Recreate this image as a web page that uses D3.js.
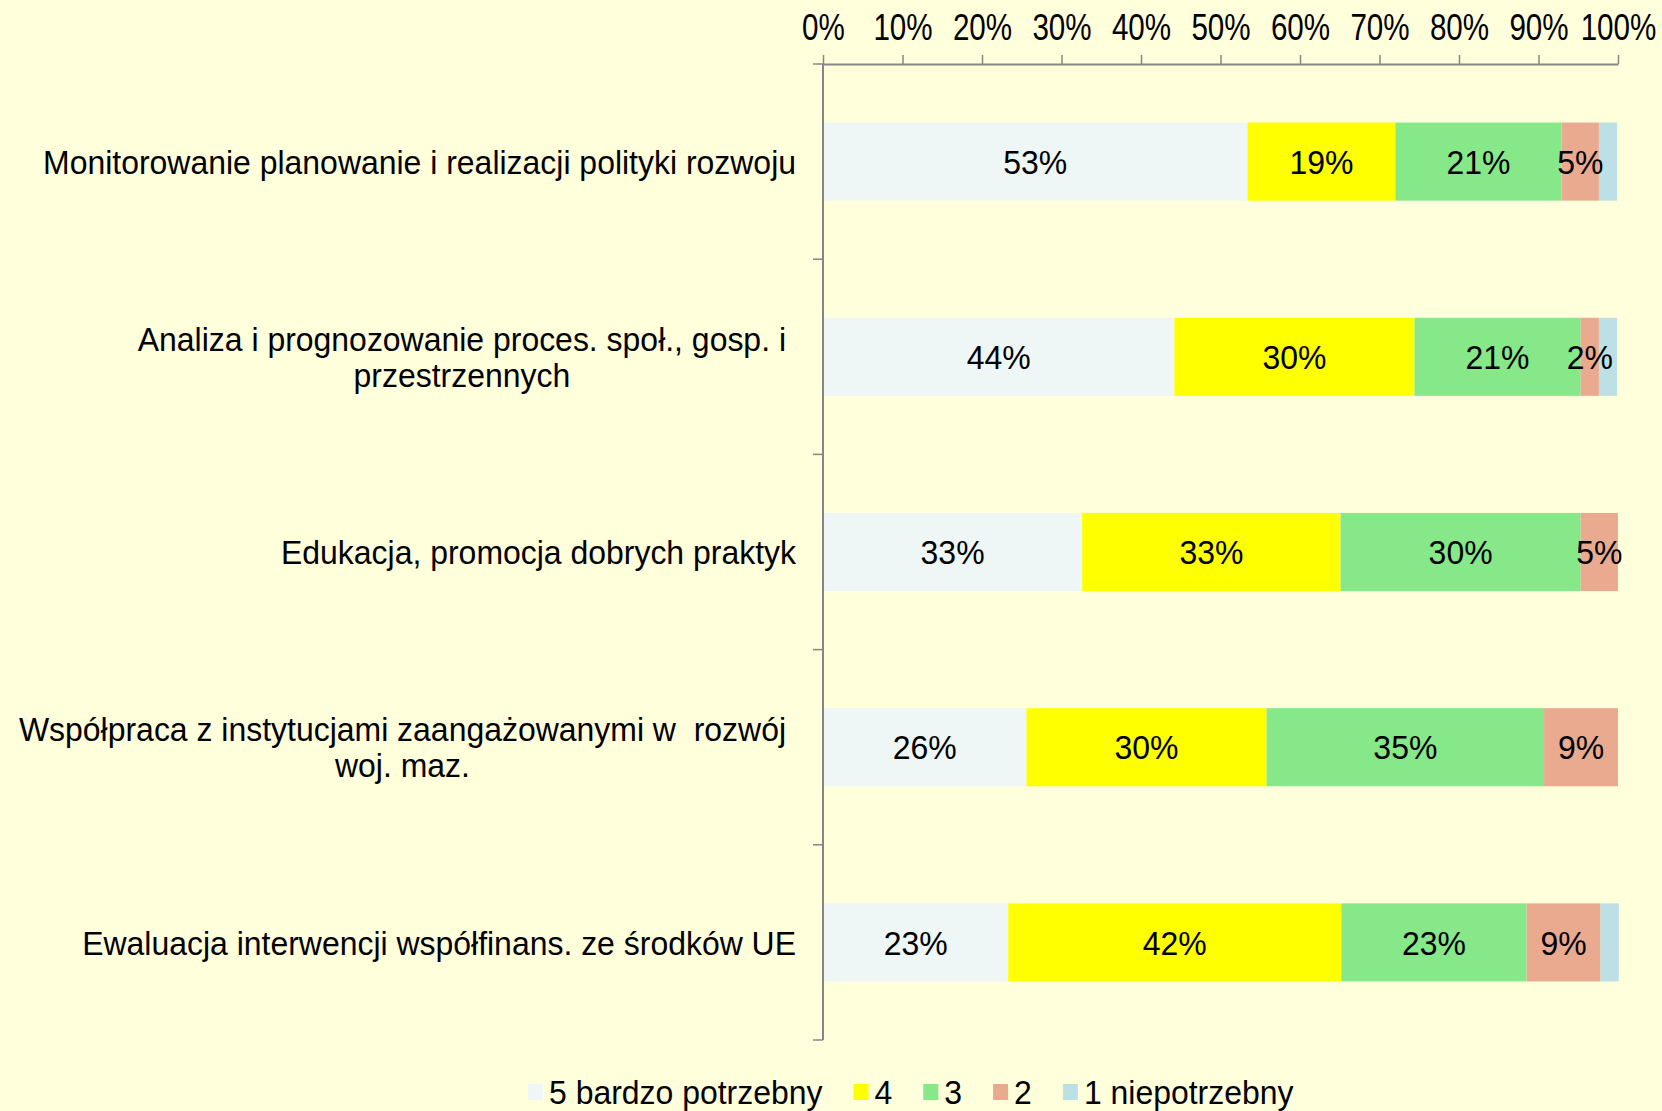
<!DOCTYPE html>
<head>
<meta charset="utf-8">
<title>Potrzeby - wykres</title>
<script src="https://d3js.org/d3.v7.min.js"></script>
<style>
body { margin: 0; background: #FFFFDC; }
svg { font-family: "Liberation Sans", Arial, sans-serif; display: block; }
text { white-space: pre; }
</style>
</head>
<body>
<div id="chart"></div>
<script>

var categories = [
  "Monitorowanie planowanie i realizacji polityki rozwoju",
  "Analiza i prognozowanie proces. społ., gosp. i\nprzestrzennych",
  "Edukacja, promocja dobrych praktyk",
  "Współpraca z instytucjami zaangażowanymi w  rozwój\nwoj. maz.",
  "Ewaluacja interwencji współfinans. ze środków UE"
];
var seriesNames = ["5 bardzo potrzebny", "4", "3", "2", "1 niepotrzebny"];
var v5 = [53.4, 44.2, 32.6, 25.6, 23.3];
var v4 = [18.6, 30.2, 32.5, 30.2, 41.9];
var v3 = [20.9, 20.9, 30.2, 34.9, 23.3];
var v2 = [4.7, 2.3, 4.7, 9.3, 9.3];
var v1 = [2.3, 2.3, 0, 0, 2.3];
var xTicks = [0, 10, 20, 30, 40, 50, 60, 70, 80, 90, 100];

var colors = ["#EEF6F6", "#FFFF00", "#86E888", "#EAAA8F", "#BCE0E5"];
var seriesValues = [v5, v4, v3, v2, v1];

var width = 1662, height = 1111;
var plotLeft = 823, plotRight = 1618, plotTop = 64, plotBottom = 1040;
var sx = 0.94; // text looks a bit narrow in the original

var rows = categories.map(function(c, i) {
  var x0 = 0;
  return seriesValues.map(function(vals, s) {
    var d = {cat: c, series: s, v: vals[i], x0: x0};
    x0 += vals[i];
    return d;
  });
});

var x = d3.scaleLinear().domain([0, 100]).range([plotLeft, plotRight]);
var y = d3.scaleBand().domain(categories).range([plotTop, plotBottom])
  .paddingInner(0.6).paddingOuter(0.3);

var svg = d3.select("#chart").append("svg")
  .attr("width", width)
  .attr("height", height);

function label(g, px, py, txt, size, scaleX, anchor) {
  return g.append("g")
    .attr("transform", "translate(" + px + "," + py + ")")
    .append("text")
    .attr("transform", "scale(" + scaleX + ",1)")
    .attr("text-anchor", anchor)
    .attr("dy", "0.36em")
    .style("font-size", size + "px")
    .attr("fill", "#000")
    .text(txt);
}

/* bars */
var bars = svg.append("g");
rows.forEach(function(row) {
  bars.selectAll(null)
    .data(row.filter(d => d.v > 0)).enter()
    .append("rect")
    .attr("x", d => x(d.x0))
    .attr("y", d => y(d.cat))
    .attr("width", d => x(d.x0 + d.v) - x(d.x0))
    .attr("height", y.bandwidth())
    .attr("fill", d => colors[d.series]);
});

/* data labels (the "1" series has none) */
rows.forEach(function(row) {
  row.filter(d => d.v > 0 && d.series < 4).forEach(function(d) {
    label(svg, x(d.x0 + d.v / 2), y(d.cat) + y.bandwidth() / 2,
      Math.round(d.v) + "%", 34, sx, "middle");
  });
});

/* top axis */
var xAxis = d3.axisTop(x).tickValues(xTicks).tickFormat(d => d + "%")
  .tickSize(9).tickSizeOuter(0).tickPadding(15);
var gx = svg.append("g")
  .attr("transform", "translate(0," + plotTop + ")")
  .call(xAxis);
gx.select(".domain").attr("stroke", "#868686").attr("stroke-width", 2);
gx.selectAll(".tick line").attr("stroke", "#868686").attr("stroke-width", 1.5);
gx.selectAll(".tick text")
  .attr("fill", "#000")
  .style("font-size", "37px")
  .attr("transform", "scale(0.8,1)");

/* left axis with ticks between categories */
var step = y.step();
var bounds = categories.map(c => y(c) - step * y.paddingInner() / 2);
bounds.push(plotBottom);
var gy = svg.append("g");
gy.append("line")
  .attr("x1", plotLeft).attr("x2", plotLeft)
  .attr("y1", plotTop).attr("y2", plotBottom)
  .attr("stroke", "#868686").attr("stroke-width", 2);
gy.selectAll(null).data(bounds).enter()
  .append("line")
  .attr("x1", plotLeft - 10).attr("x2", plotLeft)
  .attr("y1", d => d).attr("y2", d => d)
  .attr("stroke", "#868686").attr("stroke-width", 1.5);

/* category labels */
var catRight = 796, catRightWrapped = 786, lineGap = 36;
categories.forEach(function(c) {
  var lines = c.split("\n");
  var cy = y(c) + y.bandwidth() / 2;
  if (lines.length == 1) {
    label(svg, catRight, cy, c, 34, sx, "end");
  } else {
    var ys = lines.map((t, k) => cy + (k - (lines.length - 1) / 2) * lineGap);
    var texts = lines.map((t, k) => label(svg, 0, ys[k], t, 34, sx, "middle"));
    var w = d3.max(texts, t => t.node().getComputedTextLength()) * sx;
    texts.forEach(function(t, k) {
      d3.select(t.node().parentNode)
        .attr("transform", "translate(" + (catRightWrapped - w / 2) + "," + ys[k] + ")");
    });
  }
});

/* legend */
var legend = svg.append("g");
var lx = 528, ly = 1092;
seriesNames.forEach(function(name, s) {
  legend.append("rect")
    .attr("x", lx).attr("y", ly - 8)
    .attr("width", 15).attr("height", 16)
    .attr("fill", colors[s]);
  var t = label(legend, lx + 21, ly, name, 34, sx, "start");
  lx += 21 + t.node().getComputedTextLength() * sx + 31;
});

</script>
</body>
</html>
